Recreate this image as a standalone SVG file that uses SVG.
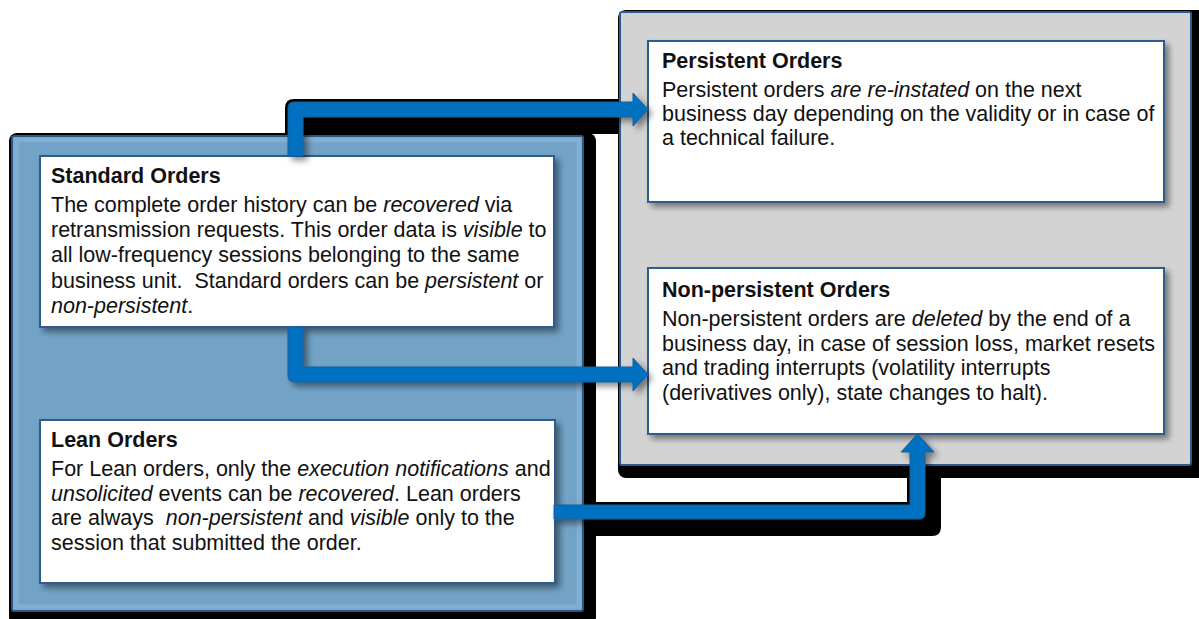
<svg xmlns="http://www.w3.org/2000/svg" xmlns:xlink="http://www.w3.org/1999/xlink" width="1199" height="619" viewBox="0 0 1199 619">
<style>
.t{font-family:"Liberation Sans",Arial,sans-serif;font-size:21.5px;fill:#111;}
.b{font-weight:bold;}
.i{font-style:italic;}
.box{fill:#fff;stroke:#2e5b8f;stroke-width:2;}
.blk{fill:#000;stroke:#000;stroke-width:6;stroke-linejoin:round;}
.arr{fill:#0070c0;stroke:#1c5d9c;stroke-width:1;}
</style>
<defs>
<filter id="soft" x="-10%" y="-10%" width="130%" height="130%">
<feGaussianBlur in="SourceAlpha" stdDeviation="3"/>
<feOffset dx="4" dy="4" result="o"/>
<feComponentTransfer><feFuncA type="linear" slope="0.45"/></feComponentTransfer>
<feMerge><feMergeNode/><feMergeNode in="SourceGraphic"/></feMerge>
</filter>
<path id="a1" d="M288,156 L288,108 Q288,102 294,102 L633,102 L633,93 L648,109.5 L633,126 L633,117 L303,117 L303,156 Z"/>
<path id="a2" d="M288,327 L303,327 L303,367 L633,367 L633,358 L648,374.5 L633,391 L633,382 L294,382 Q288,382 288,376 Z"/>
<path id="a3" d="M554,505 L910,505 L910,452 L901,452 L917.5,434 L934,452 L925,452 L925,513 Q925,519 919,519 L554,519 Z"/>
</defs>
<rect width="1199" height="619" fill="#fff"/>
<g id="shadows">
<rect x="9" y="133" width="587" height="492" rx="8" fill="#000"/>
<rect x="618" y="10" width="590" height="468" rx="8" fill="#000"/>
<use xlink:href="#a1" class="blk"/>
<use xlink:href="#a1" class="blk" transform="translate(13,14)"/>
<use xlink:href="#a3" class="blk"/>
<use xlink:href="#a3" class="blk" transform="translate(13,14)"/>
</g>
<g id="standard-panel">
<rect x="12" y="136" width="571" height="475" rx="2" fill="#72a3c7" stroke="#2a5587" stroke-width="2"/>
<rect x="16" y="140" width="563" height="467" fill="none" stroke="#8ab7d8" stroke-width="5" opacity="0.6"/>
</g>
<g id="order-book-panel">
<rect x="620" y="12" width="571" height="453" rx="2" fill="#d3d3d3" stroke="#2e5b8f" stroke-width="2"/>
</g>
<g id="standard-orders">
<rect class="box" x="40" y="156" width="514" height="171" filter="url(#soft)"/>
<text class="t b" x="51" y="183">Standard Orders</text>
<text class="t" x="51" y="212">The complete order history can be <tspan class="i">recovered</tspan> via</text>
<text class="t" x="51" y="237">retransmission requests. This order data is <tspan class="i">visible</tspan> to</text>
<text class="t" x="51" y="262">all low-frequency sessions belonging to the same</text>
<text class="t" x="51" y="288" xml:space="preserve">business unit.  Standard orders can be <tspan class="i">persistent</tspan> or</text>
<text class="t" x="51" y="313"><tspan class="i">non-persistent</tspan>.</text>
</g>
<g id="lean-orders">
<rect class="box" x="40" y="420" width="515" height="163" filter="url(#soft)"/>
<text class="t b" x="51" y="447">Lean Orders</text>
<text class="t" x="51" y="476">For Lean orders, only the <tspan class="i">execution notifications</tspan> and</text>
<text class="t" x="51" y="501"><tspan class="i">unsolicited</tspan> events can be <tspan class="i">recovered</tspan>. Lean orders</text>
<text class="t" x="51" y="525" xml:space="preserve">are always  <tspan class="i">non-persistent</tspan> and <tspan class="i">visible</tspan> only to the</text>
<text class="t" x="51" y="550">session that submitted the order.</text>
</g>
<g id="persistent-orders">
<rect class="box" x="648" y="41" width="516" height="161" filter="url(#soft)"/>
<text class="t b" x="662" y="68">Persistent Orders</text>
<text class="t" x="662" y="97">Persistent orders <tspan class="i">are re-instated</tspan> on the next</text>
<text class="t" x="662" y="121">business day depending on the validity or in case of</text>
<text class="t" x="662" y="145">a technical failure.</text>
</g>
<g id="non-persistent-orders">
<rect class="box" x="648" y="268" width="516" height="166" filter="url(#soft)"/>
<text class="t b" x="662" y="297">Non-persistent Orders</text>
<text class="t" x="662" y="326">Non-persistent orders are <tspan class="i">deleted</tspan> by the end of a</text>
<text class="t" x="662" y="350.5">business day, in case of session loss, market resets</text>
<text class="t" x="662" y="375">and trading interrupts (volatility interrupts</text>
<text class="t" x="662" y="399.5">(derivatives only), state changes to halt).</text>
</g>
<g id="connectors" filter="url(#soft)">
<use xlink:href="#a1" class="arr"/>
<use xlink:href="#a2" class="arr"/>
<use xlink:href="#a3" class="arr"/>
</g>
</svg>
